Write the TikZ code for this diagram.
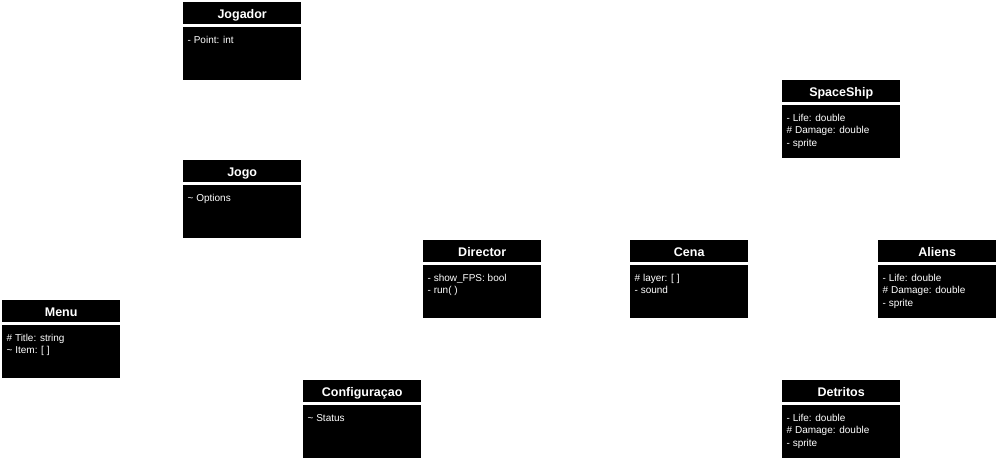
\documentclass[tikz,border=0pt]{standalone}
\usepackage{fontspec}
\setmainfont{Liberation Sans}
\tikzset{
  classbox/.style={fill=black, draw=none, minimum width=118pt, minimum height=78pt, inner sep=0pt, anchor=north west},
  classtitle/.style={text=white, font=\fontsize{12.5}{14}\selectfont\bfseries, inner sep=0pt, anchor=base},
  classline/.style={text=white, font=\fontsize{10}{12}\selectfont, inner sep=0pt, anchor=base west},
  sepline/.style={draw=white, line width=2.5pt}
}
% \umlclassbox{name}{left}{top}{title}
\newcommand\umlclassbox[4]{%
  \node[classbox] (#1) at (#2,#3) {};
  \node[classtitle] (#1-t) at ([yshift=-16.5pt]#1.north) {#4};
  \draw[sepline] ([yshift=-23.3pt]#1.north west) -- ([yshift=-23.3pt]#1.north east);
}
% \umlattr{name}{index}{row}{text}
\newcommand\umlattr[4]{%
  \node[classline] (#1-#2) at ([xshift=4.5pt,yshift=-#3]#1.north west) {#4};
}
\begin{document}
\begin{tikzpicture}[x=1pt,y=-1pt]
\useasboundingbox[fill=white] (0,0) rectangle (998,460);

\umlclassbox{jogador}{183}{2}{Jogador}
\umlattr{jogador}{1}{41.3pt}{- Point: int}

\umlclassbox{spaceship}{782}{80}{SpaceShip}
\umlattr{spaceship}{1}{41.3pt}{- Life: double}
\umlattr{spaceship}{2}{53.8pt}{\# Damage: double}
\umlattr{spaceship}{3}{66.3pt}{- sprite}

\umlclassbox{jogo}{183}{160}{Jogo}
\umlattr{jogo}{1}{41.3pt}{\textasciitilde\ Options}

\umlclassbox{director}{423}{240}{Director}
\umlattr{director}{1}{41.3pt}{- show\_FPS: bool}
\umlattr{director}{2}{53.8pt}{- run( )}

\umlclassbox{cena}{630}{240}{Cena}
\umlattr{cena}{1}{41.3pt}{\# layer: [ ]}
\umlattr{cena}{2}{53.8pt}{- sound}

\umlclassbox{aliens}{878}{240}{Aliens}
\umlattr{aliens}{1}{41.3pt}{- Life: double}
\umlattr{aliens}{2}{53.8pt}{\# Damage: double}
\umlattr{aliens}{3}{66.3pt}{- sprite}

\umlclassbox{menu}{2}{300}{Menu}
\umlattr{menu}{1}{41.3pt}{\# Title: string}
\umlattr{menu}{2}{53.8pt}{\textasciitilde\ Item: [ ]}

\umlclassbox{config}{303}{380}{Configuraçao}
\umlattr{config}{1}{41.3pt}{\textasciitilde\ Status}

\umlclassbox{detritos}{782}{380}{Detritos}
\umlattr{detritos}{1}{41.3pt}{- Life: double}
\umlattr{detritos}{2}{53.8pt}{\# Damage: double}
\umlattr{detritos}{3}{66.3pt}{- sprite}
\end{tikzpicture}
\end{document}
